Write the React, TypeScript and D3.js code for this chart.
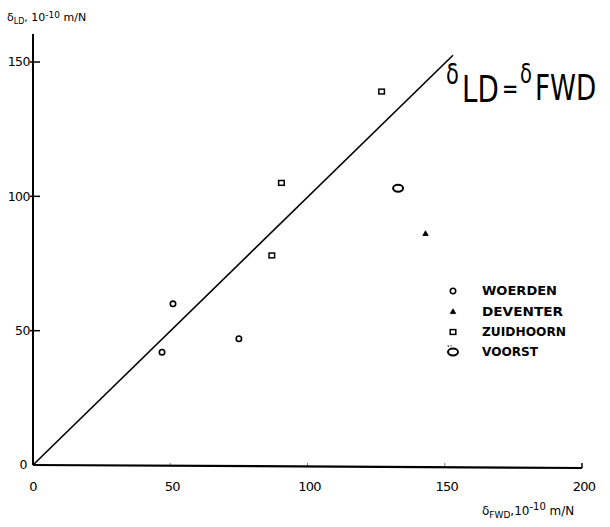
import React from "react";
import * as d3 from "d3";

const xTicks = [0, 50, 100, 150, 200];
const yTicks = [0, 50, 100, 150];

const woerden: [number, number][] = [[47, 42], [51, 60], [75, 47]];
const deventer: [number, number][] = [[143, 86]];
const zuidhoorn: [number, number][] = [[87, 78], [90.5, 105], [127, 139]];
const voorst: [number, number][] = [[133, 103]];
const equalityLine: [number, number][] = [[0, 0], [153, 152.5]];

const legendNames = ["WOERDEN", "DEVENTER", "ZUIDHOORN", "VOORST"];
const legendWidths = [75, 81, 84, 56];

const W = 610;
const H = 527;

export default function App() {
  const x = d3.scaleLinear().domain([0, 200]).range([33, 582]);
  const y = d3.scaleLinear().domain([0, 150]).range([465, 62]);
  const line = d3.line<[number, number]>().x(d => x(d[0])).y(d => y(d[1]));
  const tri = d3.symbol().type(d3.symbolTriangle).size(13)();
  const font = "'DejaVu Sans', sans-serif";
  const legendY = [291, 312, 332, 352];
  const lx = 453;
  const sx = 0.75;
  const ex = (px: number) => (px - 446) / sx;

  const marker = (k: number, cx: number, cy: number, key: string) => {
    if (k === 0) return <circle key={key} cx={cx} cy={cy} r={2.7} fill="none" stroke="#000" strokeWidth={1.6} />;
    if (k === 1) return <path key={key} d={tri || ""} transform={`translate(${cx},${cy})`} fill="#000" stroke="#000" strokeWidth={0.8} />;
    if (k === 2) return <rect key={key} x={cx - 2.8} y={cy - 2.4} width={5.6} height={4.8} fill="none" stroke="#000" strokeWidth={1.5} />;
    return <ellipse key={key} cx={cx} cy={cy} rx={5} ry={3.4} fill="none" stroke="#000" strokeWidth={2} />;
  };

  return (
    <svg width={W} height={H} style={{ position: "absolute", left: 0, top: 0, background: "#fff" }}>
      <rect x={0} y={0} width={W} height={H} fill="#fff" />
      {/* axes */}
      <line x1={x(0)} y1={y(0)} x2={x(0)} y2={34} stroke="#000" strokeWidth={2} />
      <line x1={x(0)} y1={y(0)} x2={x(200)} y2={y(0) + 3} stroke="#000" strokeWidth={2.2} />
      <line x1={x(200)} y1={y(0) + 3} x2={x(200)} y2={y(0) - 2} stroke="#000" strokeWidth={1.5} />
      {yTicks.filter(t => t > 0).map(t => (
        <line key={"yt" + t} x1={x(0) - 3} x2={x(0) + 7} y1={y(t)} y2={y(t)} stroke="#000" strokeWidth={1.5} />
      ))}
      {yTicks.map(t => (
        <text key={"yl" + t} x={t === 0 ? 27 : 30} y={y(t)} dy="0.35em" textAnchor="end" fontFamily={font} fontSize={12.5} letterSpacing={-0.5}>
          {t}
        </text>
      ))}
      {xTicks.filter(t => t > 0 && t < 200).map(t => (
        <line key={"xt" + t} x1={x(t)} x2={x(t)} y1={y(0) - 2} y2={y(0) + 1} stroke="#000" strokeWidth={1} opacity={0.5} />
      ))}
      {xTicks.map(t => (
        <text key={"xl" + t} x={x(t) + (t === 0 ? 0 : 2)} y={491} textAnchor="middle" fontFamily={font} fontSize={13} letterSpacing={-0.8}>
          {t}
        </text>
      ))}
      {/* equality line */}
      <path d={line(equalityLine) || ""} fill="none" stroke="#000" strokeWidth={1.6} />
      {/* points */}
      {woerden.map((d, i) => marker(0, x(d[0]), y(d[1]), "w" + i))}
      {deventer.map((d, i) => marker(1, x(d[0]), y(d[1]), "d" + i))}
      {zuidhoorn.map((d, i) => marker(2, x(d[0]), y(d[1]), "z" + i))}
      {voorst.map((d, i) => marker(3, x(d[0]), y(d[1]), "v" + i))}
      {/* legend */}
      {legendNames.map((n, i) => (
        <g key={n}>
          {marker(i, lx, legendY[i], "lm" + i)}
          <text x={482} y={legendY[i]} dy="0.36em" fontFamily={font} fontSize={11.5} fontWeight="bold" textLength={legendWidths[i]} lengthAdjust="spacingAndGlyphs">
            {n}
          </text>
        </g>
      ))}
      <line x1={lx - 5} y1={legendY[3] - 7} x2={lx - 4.5} y2={legendY[3] - 5} stroke="#000" strokeWidth={0.8} />
      <line x1={lx - 2} y1={legendY[3] - 7} x2={lx - 2} y2={legendY[3] - 5.5} stroke="#000" strokeWidth={0.8} />
      {/* equation */}
      <g transform={`translate(446,0) scale(${sx},1)`}>
        <text fontFamily={font} fill="#000">
          <tspan x={0} y={84} fontSize={28}>δ</tspan>
          <tspan x={ex(462)} y={102} fontSize={37}>LD</tspan>
          <tspan x={ex(502)} y={98} fontSize={26}>=</tspan>
          <tspan x={ex(520)} y={83} fontSize={26}>δ</tspan>
          <tspan x={ex(535)} y={100} fontSize={35}>FWD</tspan>
        </text>
      </g>
      {/* axis titles */}
      <text x={7} y={21} fontFamily={font} fontSize={11}>
        <tspan>δ</tspan>
        <tspan fontSize={8} dy={3}>LD</tspan>
        <tspan dy={-3}>, 10</tspan>
        <tspan fontSize={9} dy={-3}>-10</tspan>
        <tspan dy={3}> m/N</tspan>
      </text>
      <text x={482} y={515} fontFamily={font} fontSize={12}>
        <tspan>δ</tspan>
        <tspan fontSize={9} dy={3}>FWD</tspan>
        <tspan dy={-3}>,10</tspan>
        <tspan fontSize={10} dy={-5}>-10</tspan>
        <tspan dy={5}>   m/N</tspan>
      </text>
    </svg>
  );
}
